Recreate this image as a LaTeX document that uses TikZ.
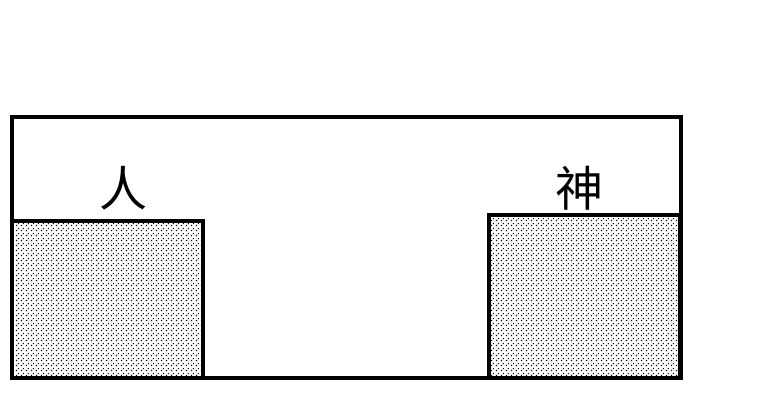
\documentclass[tikz,border=0pt]{standalone}
\usepackage{fontspec}
\newfontfamily\cjk{Noto Sans CJK SC}
\usetikzlibrary{patterns,positioning}

% sparse dot grain for the blocks
\pgfdeclarepatternformonly{grain}{\pgfpointorigin}{\pgfqpoint{5pt}{5pt}}{\pgfqpoint{5pt}{5pt}}{%
    \pgfpathrectangle{\pgfqpoint{1pt}{1pt}}{\pgfqpoint{1.6pt}{1.6pt}}%
    \pgfpathrectangle{\pgfqpoint{3.5pt}{3.5pt}}{\pgfqpoint{1.2pt}{1.2pt}}%
    \pgfusepath{fill}}

\begin{document}
\begin{tikzpicture}[x=1pt, y=-1pt, line width=3.5pt]
    \tikzset{
        level/.style={draw, pattern=grain, pattern color=black, inner sep=0pt, minimum width=191pt},
        word/.style={font=\cjk\fontsize{48}{48}\selectfont, inner sep=0pt}
    }
    \useasboundingbox (0,0) rectangle (758,407);

    % outer frame
    \draw (12,117) rectangle (681,378);

    % left block (human)
    \node[level, minimum height=157pt] (human) at (107.5,299.5) {};
    \node[word, above=7pt of human.north, xshift=16pt] (renlabel) {人};

    % right block (god)
    \node[level, minimum height=163pt] (god) at (584.5,296.5) {};
    \node[word, above=1pt of god.north, xshift=-5pt] (shenlabel) {神};
\end{tikzpicture}
\end{document}
